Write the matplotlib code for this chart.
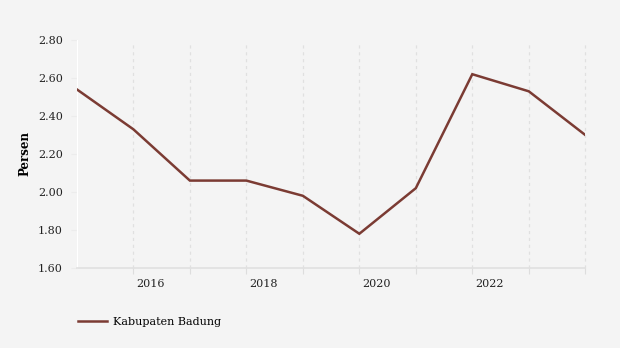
import matplotlib
matplotlib.use('Agg')
import matplotlib.pyplot as plt
import matplotlib.transforms as mtrans

years = [2015, 2016, 2017, 2018, 2019, 2020, 2021, 2022, 2023, 2024]
persen = [2.54, 2.33, 2.06, 2.06, 1.98, 1.78, 2.02, 2.62, 2.53, 2.30]
label_years = [2016, 2018, 2020, 2022]
y_ticks = [1.60, 1.80, 2.00, 2.20, 2.40, 2.60, 2.80]

bg = '#f4f4f4'
plt.rcParams['font.family'] = 'DejaVu Serif'

fig = plt.figure(figsize=(6.2, 3.48), dpi=100, facecolor=bg)
ax = fig.add_axes([0.124, 0.230, 0.820, 0.655], facecolor=bg)

ax.plot(years, persen, color='#7b3b33', lw=1.8, label='Kabupaten Badung',
        solid_joinstyle='miter', zorder=3)

ax.set_xlim(2015, 2024)
ax.set_ylim(1.60, 2.80)
ax.set_yticks(y_ticks)
ax.set_yticklabels(['%.2f' % v for v in y_ticks], fontsize=8, color='#222222')

# ticks every year, labels only on even years, left-aligned next to the tick
ax.set_xticks(years[1:])
ax.set_xticklabels([str(y) if y in label_years else '' for y in years[1:]],
                   fontsize=8, color='#222222', ha='left')
ax.tick_params(axis='x', length=4, color='#dddddd', pad=4)
ax.tick_params(axis='y', length=4, color='#ececec', pad=6)
offset = mtrans.ScaledTranslation(2 / 72, 0, fig.dpi_scale_trans)
for lbl in ax.get_xticklabels():
    lbl.set_transform(lbl.get_transform() + offset)

for y in years[1:]:
    ax.plot([y, y], [1.60, 2.78], color='#e0e0e0', lw=0.9, ls=(0, (2.5, 3)),
            zorder=1, clip_on=False)

for s in ['top', 'right']:
    ax.spines[s].set_visible(False)
ax.spines['bottom'].set_color('#e0e0e0')
ax.spines['left'].set_color('#ffffff')
ax.spines['bottom'].set_linewidth(1.2)

ax.set_ylabel('Persen', fontsize=8.5, fontweight='bold', labelpad=5)

fig.legend(loc='lower left', bbox_to_anchor=(0.11, 0.033), frameon=False,
           fontsize=8, handlelength=2.6, handletextpad=0.5)

fig.savefig('out.png', dpi=100, facecolor=bg)
